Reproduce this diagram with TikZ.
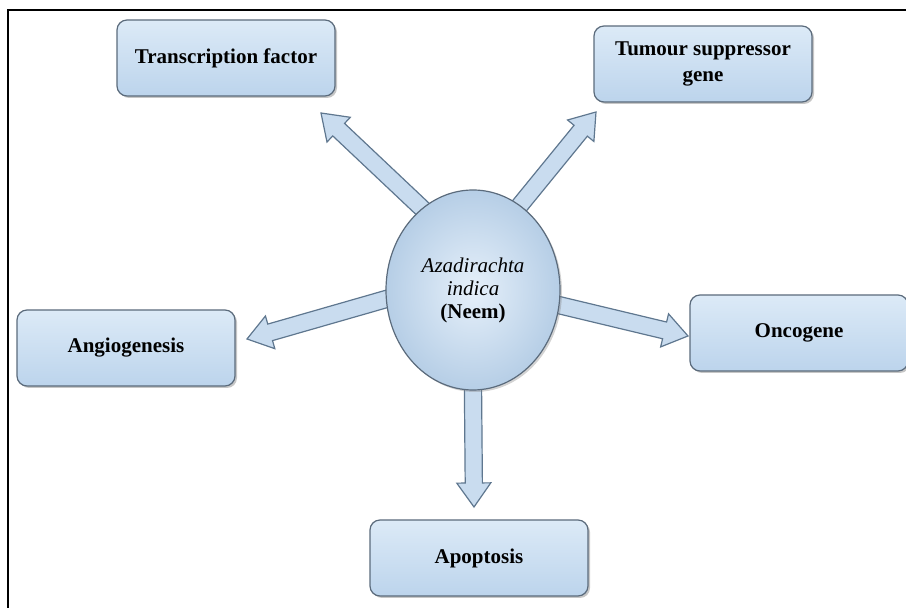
\documentclass[tikz,border=0pt]{standalone}
\usepackage{fontspec}
\setmainfont{Liberation Serif}[ItalicFont={Liberation Serif Italic},
  BoldFont={Liberation Serif Bold}, BoldItalicFont={Liberation Serif Bold Italic}]
\usetikzlibrary{calc,shadows,backgrounds,shapes.geometric}
\definecolor{boxline}{HTML}{5B6B7C}
\definecolor{boxtop}{HTML}{DCEAF7}
\definecolor{boxbot}{HTML}{BCD4EC}
\definecolor{arrowfill}{HTML}{C9DCEF}
\definecolor{arrowline}{HTML}{5F778F}
\definecolor{neemin}{HTML}{E6F0FA}
\definecolor{neemout}{HTML}{B6CEE6}
\tikzset{
  effectbox/.style={draw=boxline, line width=0.6pt, rounded corners=5pt,
    top color=boxtop, bottom color=boxbot, minimum width=109pt, minimum height=38pt,
    align=center, font=\fontsize{10.5}{13}\selectfont\bfseries,
    drop shadow={shadow xshift=1pt, shadow yshift=-1pt, opacity=0.45}},
  blockarrow/.style={draw=arrowline, fill=arrowfill, line width=0.6pt, line join=miter,
    to path={let \p1=(\tikztostart), \p2=(\tikztotarget),
      \n1={atan2(\y2-\y1,\x2-\x1)}, \n2={veclen(\x2-\x1,\y2-\y1)-12pt} in
      ($(\p1)+(\n1+90:4.3pt)$) -- ($(\p1)+(\n1:\n2)+(\n1+90:4.3pt)$)
      -- ($(\p1)+(\n1:\n2)+(\n1+90:8.5pt)$) -- (\p2)
      -- ($(\p1)+(\n1:\n2)+(\n1-90:8.5pt)$) -- ($(\p1)+(\n1:\n2)+(\n1-90:4.3pt)$)
      -- ($(\p1)+(\n1-90:4.3pt)$) -- cycle}}
}
\begin{document}
\begin{tikzpicture}[x=0.5pt, y=-0.5pt]
  \useasboundingbox (0,0) rectangle (906,608);
  \draw[line width=1pt] (8,612) -- (8,10) -- (910,10);
  % centre
  \node[ellipse, draw=boxline, line width=0.6pt, minimum width=87pt, minimum height=100pt,
    inner color=neemin, outer color=neemout, align=center,
    font=\fontsize{10.5}{11.5}\selectfont,
    drop shadow={shadow xshift=1pt, shadow yshift=-1pt, opacity=0.35}]
    (neem) at (473,290) {\textit{Azadirachta}\\\textit{indica}\\\textbf{(Neem)}};
  % targets
  \node[effectbox] (tf) at (226,58) {Transcription factor};
  \node[effectbox] (ts) at (703,64) {Tumour suppressor\\gene};
  \node[effectbox] (ang) at (126,348) {Angiogenesis};
  \node[effectbox] (onc) at (799,333) {Oncogene};
  \node[effectbox] (apo) at (479,558) {Apoptosis};
  \coordinate (tf tip) at (321,113);
  \coordinate (ts tip) at (596,112);
  \coordinate (ang tip) at (247,339);
  \coordinate (onc tip) at (688,336);
  \coordinate (apo tip) at (474,507);
  \begin{scope}[on background layer]
  \draw[blockarrow] ($(neem.122)!-8pt!(tf tip)$) to (tf tip);
  \draw[blockarrow] ($(neem.61)!-8pt!(ts tip)$) to (ts tip);
  \draw[blockarrow] ($(neem.186)!-8pt!(ang tip)$) to (ang tip);
  \draw[blockarrow] ($(neem.350)!-8pt!(onc tip)$) to (onc tip);
  \draw[blockarrow] ($(neem.south)!-8pt!(apo tip)$) to (apo tip);
  \end{scope}
\end{tikzpicture}
\end{document}
